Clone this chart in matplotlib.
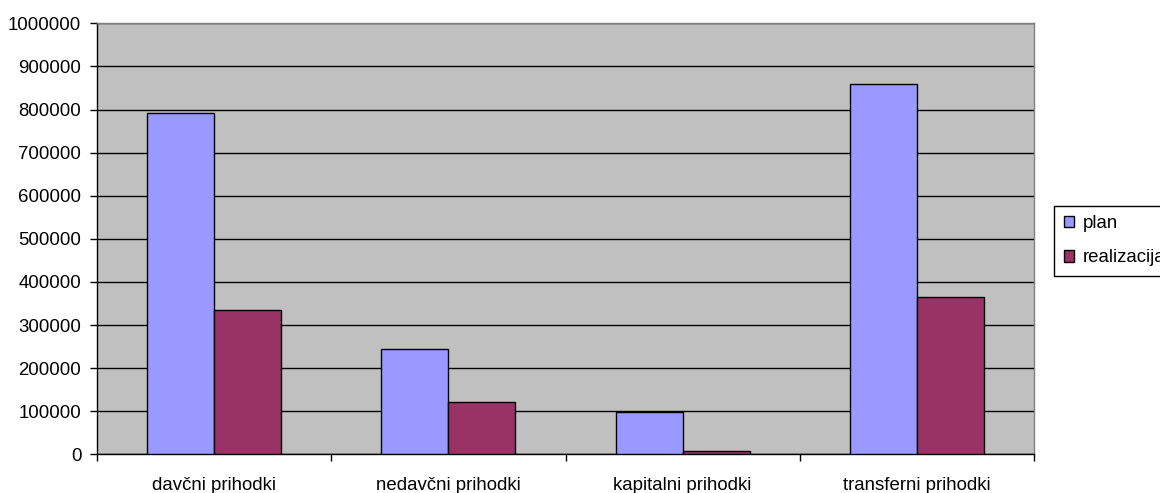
import numpy as np
import matplotlib.pyplot as plt

# podatki (prihodki)
categories = ['davčni prihodki', 'nedavčni prihodki', 'kapitalni prihodki', 'transferni prihodki']
plan = [793000, 244000, 98000, 860000]
realizacija = [335000, 121000, 7000, 365000]
yticks = [0, 100000, 200000, 300000, 400000, 500000, 600000, 700000, 800000, 900000, 1000000]

plt.rcParams['font.family'] = ['Liberation Sans', 'DejaVu Sans']
fs = 13.4

fig = plt.figure(figsize=(11.6, 4.93), dpi=100)
ax = fig.add_axes([97 / 1160, 1 - 454.3 / 493, (1034 - 97) / 1160, (454.3 - 23.3) / 493])
ax.set_facecolor('#C0C0C0')

x = np.arange(len(categories))
w = 1 / 3.5
ax.bar(x - w / 2, plan, w, color='#9999FF', edgecolor='black', linewidth=1.0, label='plan', zorder=3)
ax.bar(x + w / 2, realizacija, w, color='#993366', edgecolor='black', linewidth=1.0, label='realizacija', zorder=3)

ax.set_xlim(-0.5, len(categories) - 0.5)
ax.set_ylim(0, 1000000)
ax.set_yticks(yticks)
ax.set_yticklabels([str(v) for v in yticks], fontsize=fs)
ax.yaxis.grid(True, color='black', linewidth=1.0, zorder=1)
ax.set_axisbelow(True)

ax.set_xticks(np.arange(len(categories) + 1) - 0.5)
ax.set_xticklabels([])
ax.set_xticks(x, minor=True)
ax.set_xticklabels(categories, minor=True, fontsize=fs)
ax.tick_params(axis='x', which='minor', length=0, pad=16)
ax.tick_params(axis='x', which='major', length=5, width=1, color='black')
ax.tick_params(axis='y', length=4.8, width=1, color='black', pad=6.5)

for s in ['top', 'right']:
    ax.spines[s].set_color('#808080')
for s in ['left', 'bottom']:
    ax.spines[s].set_color('black')
for s in ax.spines.values():
    s.set_linewidth(1.0)

leg = ax.legend(loc='upper left', bbox_to_anchor=(1054.3 / 1160, 1 - 205.7 / 493),
                bbox_transform=fig.transFigure, borderaxespad=0, fontsize=fs,
                frameon=True, fancybox=False, edgecolor='black', framealpha=1,
                handlelength=0.55, handleheight=0.55, handletextpad=0.45,
                borderpad=0.52, labelspacing=0.92)
leg.get_frame().set_linewidth(1.0)

fig.savefig('out.png', dpi=100)
